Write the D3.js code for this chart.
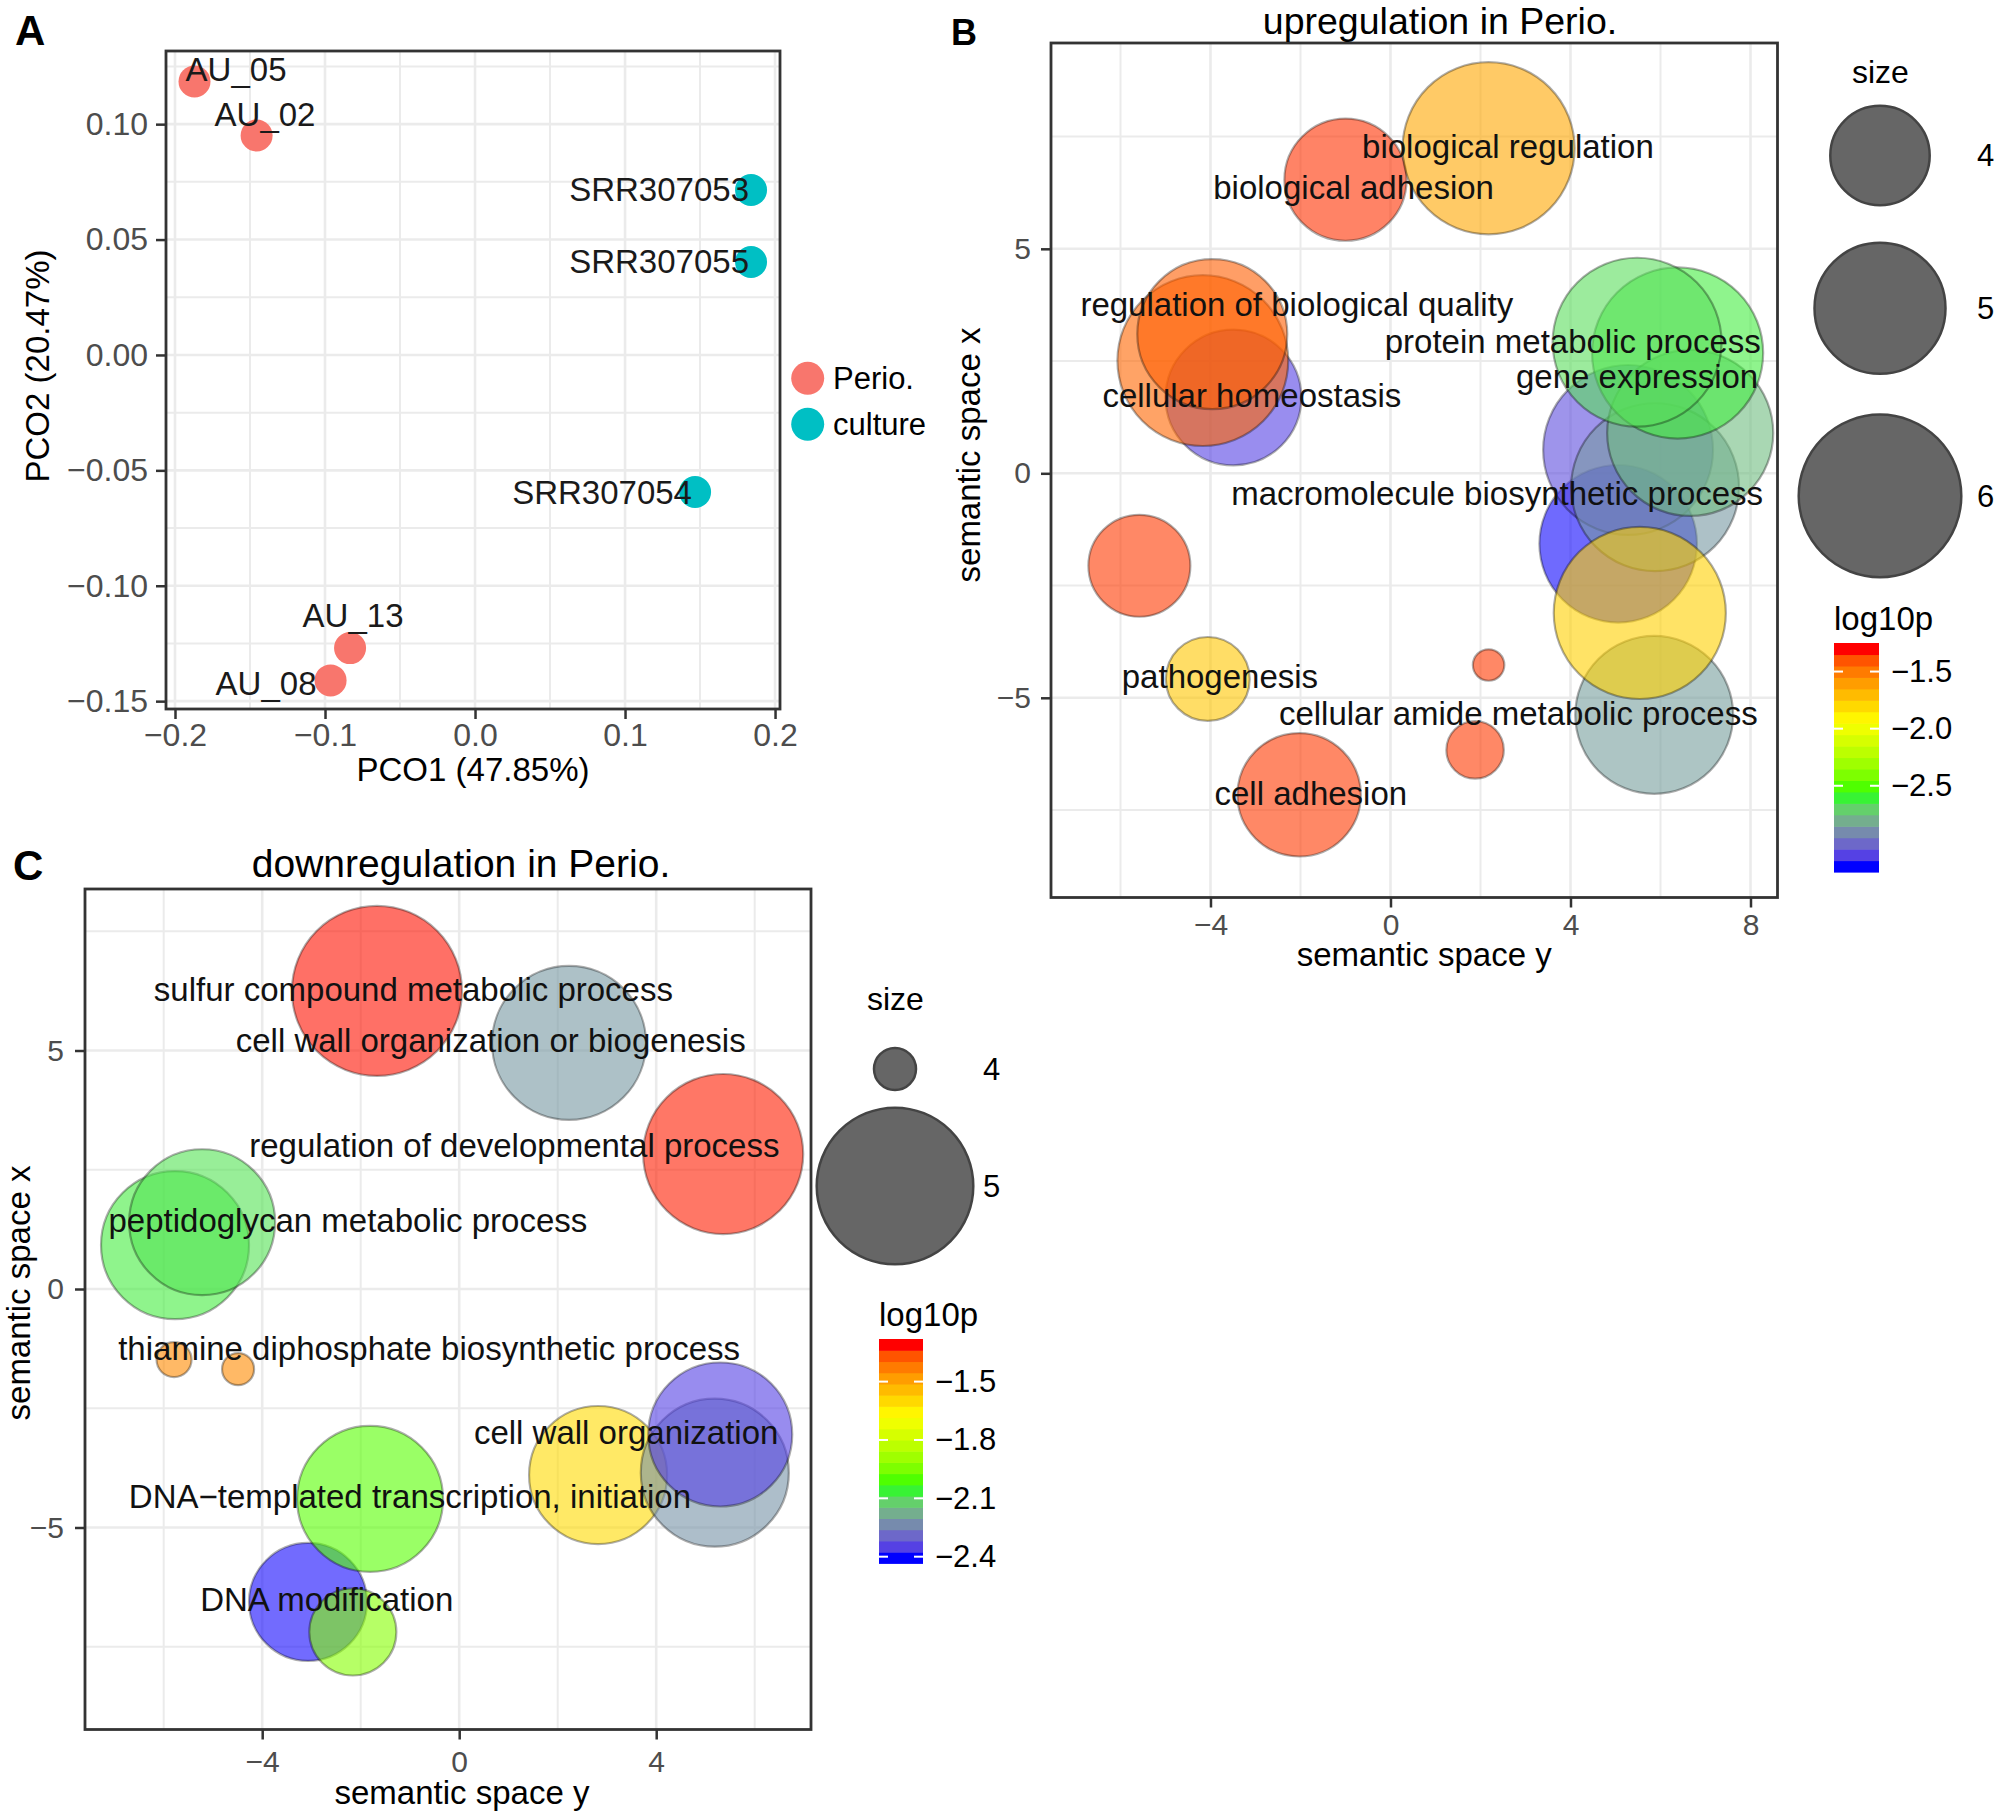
<!DOCTYPE html>
<html>
<head>
<meta charset="utf-8">
<title>PCoA and REVIGO plots</title>
<script src="https://d3js.org/d3.v7.min.js"></script>
<style>
  body { margin: 0; background: #fff; }
  svg text { font-family: "Liberation Sans", Arial, Helvetica, sans-serif; }
</style>
</head>
<body>
<svg width="1994" height="1818"></svg>
<script>
// ---------- panel A: PCoA ----------
const pcoSamples = ["AU_05", "AU_02", "SRR307053", "SRR307055", "SRR307054", "AU_13", "AU_08"];
const pcoGroup = ["Perio.", "Perio.", "culture", "culture", "culture", "Perio.", "Perio."];
const pco1 = [-0.187, -0.1456, 0.184, 0.184, 0.1467, -0.0833, -0.0963];
const pco2 = [0.1185, 0.0951, 0.0715, 0.0403, -0.0594, -0.127, -0.141];
const pcoLabelX = [-0.1593, -0.140, 0.1227, 0.1227, 0.0847, -0.0813, -0.1393];
const pcoLabelY = [0.1235, 0.1044, 0.0715, 0.0403, -0.0594, -0.1127, -0.1423];
const groups = ["Perio.", "culture"];

// ---------- panel B: upregulation ----------
const upX = [-1.00, 2.18, -3.49, -4.17, -3.96, -5.58, -4.06, 2.18, 1.88, -2.03, 5.86, 5.06, 5.28, 5.88, 5.54, 6.66, 6.38, 5.48];
const upY = [6.54, 7.24, 1.69, 2.51, 3.10, -2.06, -4.58, -4.27, -6.16, -7.16, -5.38, -1.57, 0.52, -0.31, -3.11, 0.90, 2.68, 2.92];
const upSize = [4.72, 6.30, 5.15, 6.26, 5.60, 4.08, 3.51, 1.85, 2.67, 4.76, 5.85, 5.84, 6.23, 6.17, 6.30, 6.11, 6.27, 6.20];
const upLog10p = [-1.29, -1.60, -3.15, -1.40, -1.38, -1.30, -1.71, -1.30, -1.30, -1.30, -2.88, -3.25, -3.12, -2.90, -1.75, -2.79, -2.64, -2.69];
const upLabels = ["biological regulation", "biological adhesion", "regulation of biological quality",
  "protein metabolic process", "gene expression", "cellular homeostasis",
  "macromolecule biosynthetic process", "pathogenesis", "cellular amide metabolic process", "cell adhesion"];
const upLabelX = [2.61, -0.82, -2.08, 4.05, 5.48, -3.08, 2.37, -3.79, 2.84, -1.77];
const upLabelY = [7.27, 6.36, 3.76, 2.93, 2.15, 1.74, -0.45, -4.53, -5.35, -7.13];
const upSizeKeys = [4, 5, 6];
const upColorTicks = [-1.5, -2.0, -2.5];

// ---------- panel C: downregulation ----------
const downX = [-1.67, 2.23, 5.36, -5.77, -5.22, -5.79, -4.49, 2.82, 5.19, 5.30, -3.07, -1.81, -2.16];
const downY = [6.25, 5.16, 2.83, 0.92, 1.40, -1.48, -1.68, -3.90, -3.85, -3.05, -6.56, -4.40, -7.19];
const downSize = [5.117, 4.977, 5.030, 4.925, 4.907, 3.939, 3.913, 4.838, 4.925, 4.890, 4.663, 4.907, 4.393];
const downLog10p = [-1.285, -2.23, -1.29, -2.08, -2.10, -1.43, -1.43, -1.59, -2.24, -2.376, -2.43, -2.00, -1.935];
const downLabels = ["sulfur compound metabolic process", "cell wall organization or biogenesis",
  "regulation of developmental process", "peptidoglycan metabolic process",
  "thiamine diphosphate biosynthetic process", "cell wall organization",
  "DNA\u2212templated transcription, initiation", "DNA modification"];
const downLabelX = [-0.93, 0.64, 1.12, -2.26, -0.61, 3.39, -1.00, -2.69];
const downLabelY = [6.29, 5.22, 3.00, 1.43, -1.25, -3.01, -4.34, -6.51];
const downSizeKeys = [4, 5];
const downColorTicks = [-1.5, -1.8, -2.1, -2.4];

const svg = d3.select("svg");
const GRID = "#EBEBEB", BORDER = "#333333", TICKTXT = "#4D4D4D";

// frame with grid, axes and border; returns scales
function frame(o) {
  const g = svg.append("g");
  const x = d3.scaleLinear().domain(o.xDomain).range([o.left, o.right]);
  const y = d3.scaleLinear().domain(o.yDomain).range([o.bottom, o.top]);

  const grid = g.append("g");
  grid.selectAll(".vx").data(o.xMinor).join("line")
    .attr("x1", d => x(d)).attr("x2", d => x(d)).attr("y1", o.top).attr("y2", o.bottom)
    .attr("stroke", GRID).attr("stroke-width", 2);
  grid.selectAll(".hy").data(o.yMinor).join("line")
    .attr("y1", d => y(d)).attr("y2", d => y(d)).attr("x1", o.left).attr("x2", o.right)
    .attr("stroke", GRID).attr("stroke-width", 2);
  grid.selectAll(".vX").data(o.xTicks).join("line")
    .attr("x1", d => x(d)).attr("x2", d => x(d)).attr("y1", o.top).attr("y2", o.bottom)
    .attr("stroke", GRID).attr("stroke-width", 2.6);
  grid.selectAll(".hY").data(o.yTicks).join("line")
    .attr("y1", d => y(d)).attr("y2", d => y(d)).attr("x1", o.left).attr("x2", o.right)
    .attr("stroke", GRID).attr("stroke-width", 2.6);

  const xa = g.append("g").attr("transform", `translate(0,${o.bottom})`)
    .call(d3.axisBottom(x).tickValues(o.xTicks).tickFormat(o.xFmt).tickSize(10).tickPadding(o.xPad).tickSizeOuter(0));
  const ya = g.append("g").attr("transform", `translate(${o.left},0)`)
    .call(d3.axisLeft(y).tickValues(o.yTicks).tickFormat(o.yFmt).tickSize(10).tickPadding(o.yPad).tickSizeOuter(0));
  [xa, ya].forEach(a => {
    a.select(".domain").remove();
    a.selectAll("line").attr("stroke", BORDER).attr("stroke-width", 2.5);
    a.selectAll("text").attr("fill", TICKTXT).style("font-size", o.tickFont + "px");
  });

  const plot = g.append("g");
  g.append("rect").attr("x", o.left).attr("y", o.top)
    .attr("width", o.right - o.left).attr("height", o.bottom - o.top)
    .attr("fill", "none").attr("stroke", BORDER).attr("stroke-width", 2.8);

  g.append("text").attr("x", (o.left + o.right) / 2 + (o.xTitleShift || 0)).attr("y", o.xTitleY)
    .attr("text-anchor", "middle").style("font-size", "33px").text(o.xTitle);
  g.append("text").attr("transform", `translate(${o.yTitleX},${o.yTitleC}) rotate(-90)`)
    .attr("text-anchor", "middle").style("font-size", "33px").text(o.yTitle);
  return { g, x, y, plot };
}

// ---------- draw A ----------
const A = frame({
  left: 166, right: 780, top: 51, bottom: 709,
  xDomain: [-0.206, 0.2033], yDomain: [-0.1534, 0.1317],
  xTicks: [-0.2, -0.1, 0, 0.1, 0.2], yTicks: [-0.15, -0.10, -0.05, 0, 0.05, 0.10],
  xMinor: [-0.15, -0.05, 0.05, 0.15], yMinor: [-0.125, -0.075, -0.025, 0.025, 0.075, 0.125],
  xFmt: d3.format(".1f"), yFmt: d3.format(".2f"), xPad: 4, yPad: 8, tickFont: 32,
  xTitle: "PCO1 (47.85%)", xTitleY: 781, yTitle: "PCO2 (20.47%)", yTitleX: 49, yTitleC: 366
});
const groupColor = d3.scaleOrdinal().domain(groups).range(["#F8766D", "#00BFC4"]);
A.plot.selectAll("circle").data(pcoSamples).join("circle")
  .attr("cx", (d, i) => A.x(pco1[i])).attr("cy", (d, i) => A.y(pco2[i]))
  .attr("r", 16).attr("fill", (d, i) => groupColor(pcoGroup[i]));
A.plot.selectAll("text").data(pcoSamples).join("text")
  .attr("x", (d, i) => A.x(pcoLabelX[i])).attr("y", (d, i) => A.y(pcoLabelY[i]))
  .attr("dy", "0.35em").attr("text-anchor", "middle").style("font-size", "33px")
  .attr("fill", "#1a1a1a").text(d => d);
const legA = svg.append("g");
groups.forEach((gname, i) => {
  legA.append("circle").attr("cx", 807.7).attr("cy", 378.3 + i * 46).attr("r", 16.5).attr("fill", groupColor(gname));
  legA.append("text").attr("x", 833).attr("y", 378.3 + i * 46).attr("dy", "0.35em")
    .style("font-size", "31px").text(gname);
});

// ---------- bubble panels ----------
function bubblePanel(o) {
  const P = frame(o);
  const col = d3.scaleLinear()
    .domain([0, 1 / 3, 2 / 3, 1].map(t => o.cDomain[0] + t * (o.cDomain[1] - o.cDomain[0])))
    .range(["#0000FF", "#00FF00", "#FFFF00", "#FF0000"])
    .interpolate(d3.interpolateLab);
  const rad = d3.scaleLinear().domain(o.sDomain).range(o.rRange);

  P.plot.selectAll("circle").data(o.xs).join("circle")
    .attr("cx", (d, i) => P.x(o.xs[i])).attr("cy", (d, i) => P.y(o.ys[i]))
    .attr("r", (d, i) => rad(o.sizes[i]))
    .attr("fill", (d, i) => col(o.ps[i])).attr("fill-opacity", 0.6)
    .attr("stroke", "rgba(0,0,0,0.32)").attr("stroke-width", 2.2);
  P.plot.selectAll("text").data(o.labels).join("text")
    .attr("x", (d, i) => P.x(o.lx[i])).attr("y", (d, i) => P.y(o.ly[i]))
    .attr("dy", "0.35em").attr("text-anchor", "middle").style("font-size", "33px")
    .attr("fill", "#111").text(d => d);

  svg.append("text").attr("x", o.titleX).attr("y", o.titleY).attr("text-anchor", "middle")
    .style("font-size", o.titleFont + "px").text(o.title);

  // size legend
  const leg = svg.append("g");
  leg.append("text").attr("x", o.sizeTitle[0]).attr("y", o.sizeTitle[1]).style("font-size", "32px").text("size");
  o.sizeKeys.forEach((k, i) => {
    leg.append("circle").attr("cx", o.keyX).attr("cy", o.keyY[i]).attr("r", rad(k))
      .attr("fill", "#666").attr("stroke", "#444").attr("stroke-width", 2.5);
    leg.append("text").attr("x", o.keyLabelX).attr("y", o.keyY[i]).attr("dy", "0.35em")
      .style("font-size", "31px").text(k);
  });

  // colour bar
  leg.append("text").attr("x", o.bar.x).attr("y", o.bar.titleY).style("font-size", "33px").text("log10p");
  const bs = d3.scaleLinear().domain(o.cDomain).range([o.bar.bottom, o.bar.top]);
  const nbin = 20, h = (o.bar.bottom - o.bar.top) / nbin;
  const bins = d3.range(nbin).map(i => o.cDomain[0] + i * (o.cDomain[1] - o.cDomain[0]) / (nbin - 1));
  leg.selectAll(".bin").data(bins).join("rect")
    .attr("x", o.bar.x).attr("width", o.bar.w)
    .attr("y", (d, i) => o.bar.bottom - (i + 1) * h).attr("height", h + 0.6)
    .attr("fill", d => col(d));
  o.colorTicks.forEach(t => {
    [[o.bar.x, o.bar.x + 9], [o.bar.x + o.bar.w - 9, o.bar.x + o.bar.w]].forEach(([a, b]) =>
      leg.append("line").attr("x1", a).attr("x2", b).attr("y1", bs(t)).attr("y2", bs(t))
        .attr("stroke", "#fff").attr("stroke-width", 2));
  });
  const ca = leg.append("g").attr("transform", `translate(${o.bar.x + o.bar.w},0)`)
    .call(d3.axisRight(bs).tickValues(o.colorTicks).tickFormat(d3.format(".1f")).tickSize(0).tickPadding(12));
  ca.select(".domain").remove();
  ca.selectAll("text").attr("fill", "#000").style("font-size", "31px");
  return P;
}

bubblePanel({
  left: 1051, right: 1777.5, top: 43, bottom: 897.5,
  xDomain: [-7.544, 8.6], yDomain: [-9.448, 9.584],
  xTicks: [-4, 0, 4, 8], yTicks: [-5, 0, 5], xMinor: [-6, -2, 2, 6], yMinor: [-7.5, -2.5, 2.5, 7.5],
  xFmt: d3.format("d"), yFmt: d3.format("d"), xPad: 6, yPad: 10, tickFont: 30,
  xTitle: "semantic space y", xTitleY: 966, xTitleShift: 10,
  yTitle: "semantic space x", yTitleX: 980, yTitleC: 455,
  xs: upX, ys: upY, sizes: upSize, ps: upLog10p,
  labels: upLabels, lx: upLabelX, ly: upLabelY,
  cDomain: [-3.255, -1.25], sDomain: [4, 6], rRange: [49.7, 81.3],
  title: "upregulation in Perio.", titleX: 1440, titleY: 34, titleFont: 37.5,
  sizeTitle: [1852, 83], sizeKeys: upSizeKeys, keyX: 1880, keyY: [155.5, 308.3, 495.9], keyLabelX: 1977,
  bar: { x: 1834, w: 45, top: 643, bottom: 872, titleY: 630 }, colorTicks: upColorTicks
});

bubblePanel({
  left: 85, right: 811, top: 889, bottom: 1729.5,
  xDomain: [-7.598, 7.143], yDomain: [-9.235, 8.386],
  xTicks: [-4, 0, 4], yTicks: [-5, 0, 5], xMinor: [-6, -2, 2, 6], yMinor: [-7.5, -2.5, 2.5, 7.5],
  xFmt: d3.format("d"), yFmt: d3.format("d"), xPad: 11, yPad: 11, tickFont: 30,
  xTitle: "semantic space y", xTitleY: 1804, xTitleShift: 14,
  yTitle: "semantic space x", yTitleX: 29.5, yTitleC: 1293,
  xs: downX, ys: downY, sizes: downSize, ps: downLog10p,
  labels: downLabels, lx: downLabelX, ly: downLabelY,
  cDomain: [-2.434, -1.281], sDomain: [4, 5], rRange: [21, 78.3],
  title: "downregulation in Perio.", titleX: 461, titleY: 877, titleFont: 39,
  sizeTitle: [867, 1010], sizeKeys: downSizeKeys, keyX: 895, keyY: [1069, 1186], keyLabelX: 983,
  bar: { x: 879, w: 44, top: 1339, bottom: 1563.3, titleY: 1326 }, colorTicks: downColorTicks
});

// panel letters
[["A", 15, 45, 42], ["B", 951, 45, 36], ["C", 13, 880, 42]].forEach(([t, x, y, s]) =>
  svg.append("text").attr("x", x).attr("y", y).style("font-size", s + "px")
    .style("font-weight", "bold").text(t));
</script>
</body>
</html>
